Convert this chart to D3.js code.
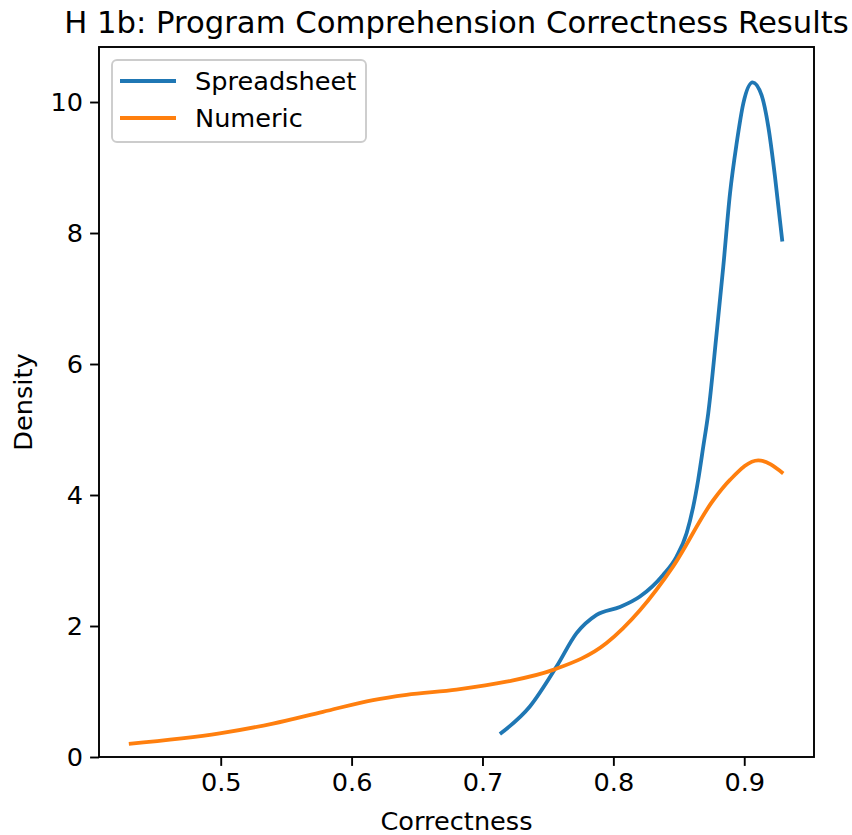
<!DOCTYPE html>
<html><head><meta charset="utf-8">
<script src="https://cdn.jsdelivr.net/npm/d3@7"></script>
<style>body{margin:0;background:#fff}svg{display:block}text{font-family:"DejaVu Sans",sans-serif;fill:#000}</style>
</head><body>
<script>
const title = "H 1b: Program Comprehension Correctness Results";
const xLabel = "Correctness";
const yLabel = "Density";
const seriesNames = ["Spreadsheet", "Numeric"];
const seriesColors = ["#1f77b4", "#ff7f0e"];
const xTicks = [0.5, 0.6, 0.7, 0.8, 0.9];
const yTicks = [0, 2, 4, 6, 8, 10];

const spreadsheetX = [0.7133, 0.7362, 0.7566, 0.7719, 0.7872, 0.805, 0.8203, 0.838, 0.8483, 0.856, 0.861, 0.8648, 0.8687, 0.8725, 0.8789, 0.884, 0.8891, 0.8942, 0.8993, 0.9064, 0.9133, 0.9184, 0.9235, 0.9291];
const spreadsheetY = [0.35, 0.77, 1.38, 1.89, 2.17, 2.29, 2.45, 2.78, 3.06, 3.42, 3.82, 4.23, 4.74, 5.25, 6.47, 7.49, 8.6, 9.37, 9.98, 10.3, 10.1, 9.62, 8.86, 7.87];
const numericX = [0.4298, 0.4992, 0.5399, 0.5781, 0.6164, 0.6419, 0.6801, 0.7183, 0.754, 0.7948, 0.8203, 0.8457, 0.8763, 0.8891, 0.9107, 0.9298];
const numericY = [0.2, 0.36, 0.51, 0.69, 0.87, 0.95, 1.03, 1.15, 1.33, 1.74, 2.24, 2.91, 3.92, 4.23, 4.53, 4.33];

const W = 852, H = 835;
const m = {left: 99, right: 814, top: 47, bottom: 757};
const svg = d3.select("body").append("svg").attr("width", W).attr("height", H);

const x = d3.scaleLinear().domain([0.407, 0.9533]).range([m.left, m.right]);
const y = d3.scaleLinear().domain([0, 10.84]).range([m.bottom, m.top]);

const series = [
  {name: seriesNames[0], color: seriesColors[0], pts: spreadsheetX.map((v, i) => [v, spreadsheetY[i]])},
  {name: seriesNames[1], color: seriesColors[1], pts: numericX.map((v, i) => [v, numericY[i]])}
];

const line = d3.line().x(d => x(d[0])).y(d => y(d[1])).curve(d3.curveMonotoneX);
series.forEach(s => {
  svg.append("path").attr("d", line(s.pts)).attr("fill", "none")
    .attr("stroke", s.color).attr("stroke-width", 3.8).attr("stroke-linecap", "butt");
});

// axes
const fs = 25.6;
const xAxis = d3.axisBottom(x).tickValues(xTicks).tickFormat(d3.format(".1f")).tickSize(8.9).tickPadding(7);
const yAxis = d3.axisLeft(y).tickValues(yTicks).tickFormat(d3.format("d")).tickSize(8.9).tickPadding(7);
const gx = svg.append("g").attr("transform", `translate(0,${m.bottom})`).call(xAxis);
const gy = svg.append("g").attr("transform", `translate(${m.left},0)`).call(yAxis);
[gx, gy].forEach(g => {
  g.select(".domain").remove();
  g.selectAll(".tick line").attr("stroke", "#000").attr("stroke-width", 1.9);
  g.selectAll(".tick text").attr("font-size", fs).attr("font-family", "DejaVu Sans").attr("fill", "#000");
});
svg.append("rect").attr("x", m.left).attr("y", m.top).attr("width", m.right - m.left).attr("height", m.bottom - m.top)
  .attr("fill", "none").attr("stroke", "#000").attr("stroke-width", 1.9);

// labels
svg.append("text").attr("x", (m.left + m.right) / 2).attr("y", 33).attr("text-anchor", "middle")
  .attr("font-size", 30.7).text(title);
svg.append("text").attr("x", (m.left + m.right) / 2).attr("y", 830).attr("text-anchor", "middle")
  .attr("font-size", fs).text(xLabel);
svg.append("text").attr("transform", `translate(32,${(m.top + m.bottom) / 2}) rotate(-90)`).attr("text-anchor", "middle")
  .attr("font-size", fs).text(yLabel);

// legend
const lg = svg.append("g");
lg.append("rect").attr("x", 112).attr("y", 60).attr("width", 254).attr("height", 82).attr("rx", 5)
  .attr("fill", "#fff").attr("fill-opacity", 0.8).attr("stroke", "#cccccc").attr("stroke-width", 1.9);
series.forEach((s, i) => {
  const yy = 81 + i * 37;
  lg.append("line").attr("x1", 120).attr("x2", 176).attr("y1", yy).attr("y2", yy)
    .attr("stroke", s.color).attr("stroke-width", 3.8);
  lg.append("text").attr("x", 195).attr("y", yy + 9).attr("font-size", fs).text(s.name);
});
</script>
</body></html>
